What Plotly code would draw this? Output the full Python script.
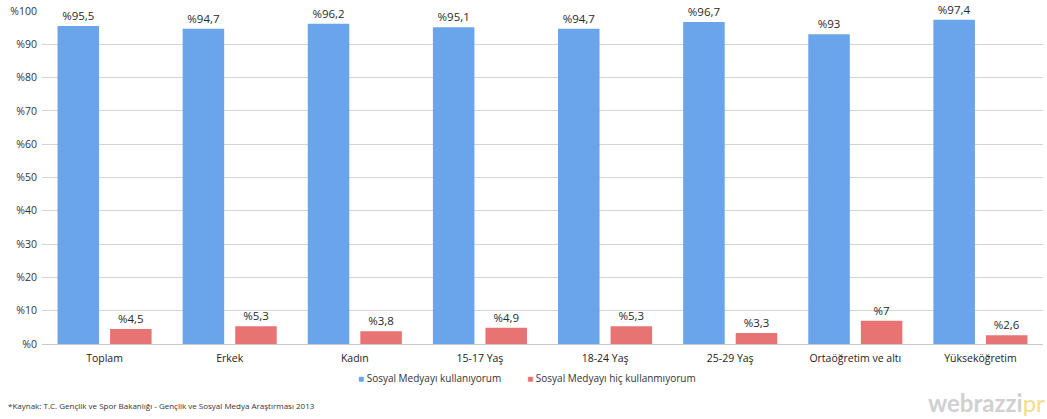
import plotly.graph_objects as go

categories = ["Toplam", "Erkek", "Kadın", "15-17 Yaş", "18-24 Yaş", "25-29 Yaş",
              "Ortaöğretim ve altı", "Yükseköğretim"]
kullaniyor = [95.5, 94.7, 96.2, 95.1, 94.7, 96.7, 93, 97.4]
kullanmiyor = [4.5, 5.3, 3.8, 4.9, 5.3, 3.3, 7, 2.6]
series_names = ["Sosyal Medyayı kullanıyorum", "Sosyal Medyayı hiç kullanmıyorum"]
series_colors = ["#6aa4ea", "#e87373"]
y_ticks = [0, 10, 20, 30, 40, 50, 60, 70, 80, 90, 100]


def lbl(v):
    return "%" + (f"{v:g}").replace(".", ",")


fig = go.Figure()
for vals, name, col in zip([kullaniyor, kullanmiyor], series_names, series_colors):
    fig.add_trace(go.Bar(
        x=categories, y=vals, name=name,
        marker=dict(color=col, line=dict(width=0)),
        text=[lbl(v) for v in vals], textposition="outside",
        textfont=dict(size=11.5, color="#2a2a2a"), cliponaxis=False,
        showlegend=False,
    ))

legend_text = ("<span style='color:%s'>■</span> %s" % (series_colors[0], series_names[0])
               + "          "
               + "<span style='color:%s'>■</span> %s" % (series_colors[1], series_names[1]))

fig.update_layout(
    width=1047, height=419,
    margin=dict(l=42, r=4, t=8, b=75),
    paper_bgcolor="white", plot_bgcolor="white",
    font=dict(family="Open Sans, Arial, sans-serif", size=10, color="#333333"),
    barmode="group", bargap=0.16, bargroupgap=0.21,
    showlegend=False,
    xaxis=dict(showgrid=False, showline=False, ticks="", ticklabelstandoff=6,
               tickfont=dict(size=10.5, color="#222222")),
    yaxis=dict(range=[0, 100], tickmode="array", tickvals=y_ticks,
               ticktext=["%" + str(v) for v in y_ticks],
               showgrid=True, gridcolor="#d4d4d4", gridwidth=1,
               zeroline=True, zerolinecolor="#c8c8c8", zerolinewidth=1,
               showline=False, ticks="", ticklen=0, ticklabelstandoff=4,
               tickfont=dict(size=10.5, color="#333333")),
    annotations=[
        dict(text=legend_text, xref="paper", yref="paper", x=(527 - 42) / 1001, y=-34 / 336,
             xanchor="center", yanchor="middle", showarrow=False,
             font=dict(size=10, color="#333333")),
        dict(text="*Kaynak: T.C. Gençlik ve Spor Bakanlığı - Gençlik ve Sosyal Medya Araştırması 2013",
             xref="paper", yref="paper", x=-36 / 1001, y=-62 / 336, xanchor="left", yanchor="middle",
             showarrow=False, font=dict(size=8, color="#333333")),
        dict(text="<b>webrazzi</b><span style='color:#f6dc8a'>pr</span>",
             xref="paper", yref="paper", x=1.004, y=-59 / 336, xanchor="right", yanchor="middle",
             showarrow=False, font=dict(size=24, color="#d0d0d0", family="Lato, Arial")),
    ],
)

fig.write_html("out.html")
